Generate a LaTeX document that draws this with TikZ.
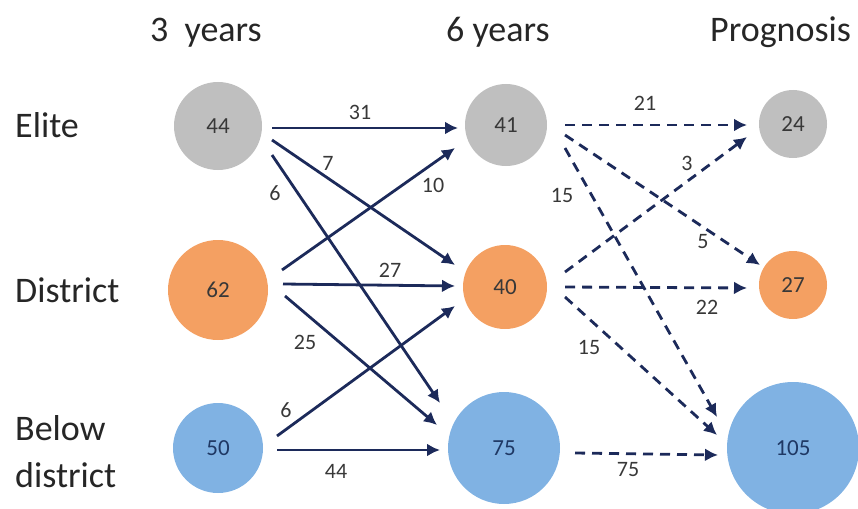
\documentclass[tikz,border=0pt]{standalone}
\usepackage{fontspec}
\setmainfont{Carlito}
\usetikzlibrary{arrows.meta}
\definecolor{cgrey}{HTML}{BFBFBF}
\definecolor{corange}{HTML}{F4A062}
\definecolor{cblue}{HTML}{80B2E3}
\definecolor{navy}{HTML}{1C2A5A}
\definecolor{numtxt}{HTML}{383838}
\definecolor{bluetxt}{HTML}{1F3864}
\begin{document}
\begin{tikzpicture}[x=1pt,y=-1pt,
  circ/.style={circle,inner sep=0pt,text=numtxt,font=\fontsize{23}{26}\selectfont},
  flow/.style={draw=navy,line width=2.8pt,-{Latex[length=13pt,width=13pt]}},
  prog/.style={flow,dash pattern=on 10pt off 7pt},
  lbl/.style={text=numtxt,font=\fontsize{22}{25}\selectfont,inner sep=0pt},
  head/.style={font=\fontsize{36}{40}\selectfont,inner sep=0pt,anchor=base west,text=black!85},
  row/.style={font=\fontsize{36}{40}\selectfont,inner sep=0pt,anchor=base west,text=black!85}]
\useasboundingbox (0,0) rectangle (858,508);
% headers
\node[head] (h1) at (150,42) {3\hspace{0.45em}years};
\node[head] (h2) at (446,42) {6 years};
\node[head] (h3) at (710,42) {Prognosis};
\node[row] (r1) at (15,137) {Elite};
\node[row] (r2) at (15,302) {District};
\node[row] (r3a) at (15,440) {Below};
\node[row] (r3b) at (15,487) {district};
% circles
\node[circ,fill=cgrey,minimum size=88pt] (c44) at (218,126) {44};
\node[circ,fill=corange,minimum size=100pt] (c62) at (218,290) {62};
\node[circ,fill=cblue,minimum size=90pt,text=bluetxt] (c50) at (218,448) {50};
\node[circ,fill=cgrey,minimum size=82pt] (c41) at (506,125) {41};
\node[circ,fill=corange,minimum size=84pt] (c40) at (505,287) {40};
\node[circ,fill=cblue,minimum size=112pt,text=bluetxt] (c75) at (504,448) {75};
\node[circ,fill=cgrey,minimum size=68pt] (c24) at (793,124) {24};
\node[circ,fill=corange,minimum size=68pt] (c27) at (793,285) {27};
\node[circ,fill=cblue,minimum size=132pt,text=bluetxt] (c105) at (793,448) {105};
% solid flows
\draw[flow] ([shift={(54,2)}]c44.center) -- ([shift={(-48,3)}]c41.center);
\draw[flow] ([shift={(54,14)}]c44.center) -- ([shift={(-50,-22)}]c40.center);
\draw[flow] ([shift={(54,29)}]c44.center) -- ([shift={(-64,-45)}]c75.center);
\draw[flow] ([shift={(64,-20)}]c62.center) -- ([shift={(-51,23)}]c41.center);
\draw[flow] ([shift={(65,-6)}]c62.center) -- ([shift={(-50,-1)}]c40.center);
\draw[flow] ([shift={(67,6)}]c62.center) -- ([shift={(-67,-23)}]c75.center);
\draw[flow] ([shift={(59,-12)}]c50.center) -- ([shift={(-50,19)}]c40.center);
\draw[flow] ([shift={(59,2)}]c50.center) -- ([shift={(-64,2)}]c75.center);
% dashed flows
\draw[prog] ([shift={(59,0)}]c41.center) -- ([shift={(-46,1)}]c24.center);
\draw[prog] ([shift={(60,-15)}]c40.center) -- ([shift={(-46,13)}]c24.center);
\draw[prog] ([shift={(59,10)}]c41.center) -- ([shift={(-33,-20)}]c27.center);
\draw[prog] ([shift={(59,23)}]c41.center) -- ([shift={(-76,-31)}]c105.center);
\draw[prog] ([shift={(60,0)}]c40.center) -- ([shift={(-46,3)}]c27.center);
\draw[prog] ([shift={(60,10)}]c40.center) -- ([shift={(-76,-13)}]c105.center);
\draw[prog] ([shift={(71,5)}]c75.center) -- ([shift={(-75,7)}]c105.center);
% labels
\node[lbl] (l1) at (360,112) {31};
\node[lbl] (l2) at (328,163) {7};
\node[lbl] (l3) at (275,193) {6};
\node[lbl] (l4) at (433,185) {10};
\node[lbl] (l5) at (390,270) {27};
\node[lbl] (l6) at (305,342) {25};
\node[lbl] (l7) at (286,410) {6};
\node[lbl] (l8) at (336,471) {44};
\node[lbl] (m1) at (645,103) {21};
\node[lbl] (m2) at (687,163) {3};
\node[lbl] (m3) at (703,242) {5};
\node[lbl] (m4) at (562,195) {15};
\node[lbl] (m5) at (707,307) {22};
\node[lbl] (m6) at (589,347) {15};
\node[lbl] (m7) at (628,470) {75};
\end{tikzpicture}
\end{document}
